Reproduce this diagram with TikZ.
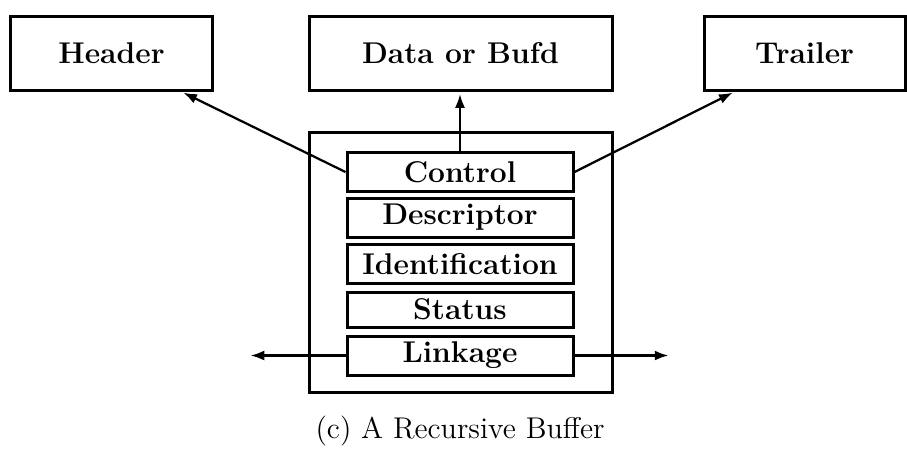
\documentclass[tikz,border=0pt]{standalone}
\usepackage{amsmath}
\usepackage{tikz}
\usetikzlibrary{arrows,arrows.meta,calc}

\begin{document}
\begin{tikzpicture}[x=0.4pt,y=-0.4pt,
    box/.style={draw,line width=1.2pt,font=\large\bfseries,inner sep=0pt,
      minimum height=29.6pt},
    field/.style={draw,line width=1.2pt,font=\large\bfseries,inner sep=0pt,
      minimum width=90.4pt,minimum height=15.6pt}]
    \useasboundingbox (0,0) rectangle (907,456);
    \node[draw,line width=1.2pt,minimum width=121.2pt,minimum height=104pt] (buf) at (460.5,262) {};
    \node[box,minimum width=80.4pt] (hdr) at (111.5,53) {Header};
    \node[box,minimum width=121.2pt] (dat) at (460.5,53) {Data or Bufd};
    \node[box,minimum width=80.4pt] (trl) at (804.5,53) {Trailer};
    \node[field] (ctl) at (460,172) {Control};
    \node[field] (dsc) at (460,217.5) {Descriptor};
    \node[field] (idf) at (460,264) {Identification};
    \node[field,minimum height=14pt] (sts) at (460,309.5) {Status};
    \node[field] (lnk) at (460,355.5) {Linkage};
    \coordinate (lnkL) at (248,355.5);
    \coordinate (lnkR) at (671,355.5);
    \node[font=\large,anchor=base] (cap) at (460,438) {(c) A Recursive Buffer};
    \path[->,>={Latex[length=5.5pt,width=4pt]},line width=0.9pt,shorten >=1pt]
      (ctl.west) edge (hdr.-29)
      (ctl.east) edge (trl.-151)
      (ctl.north) edge (ctl.north |- dat.south)
      (lnk.west) edge (lnkL)
      (lnk.east) edge (lnkR);
  \end{tikzpicture}
\end{document}
